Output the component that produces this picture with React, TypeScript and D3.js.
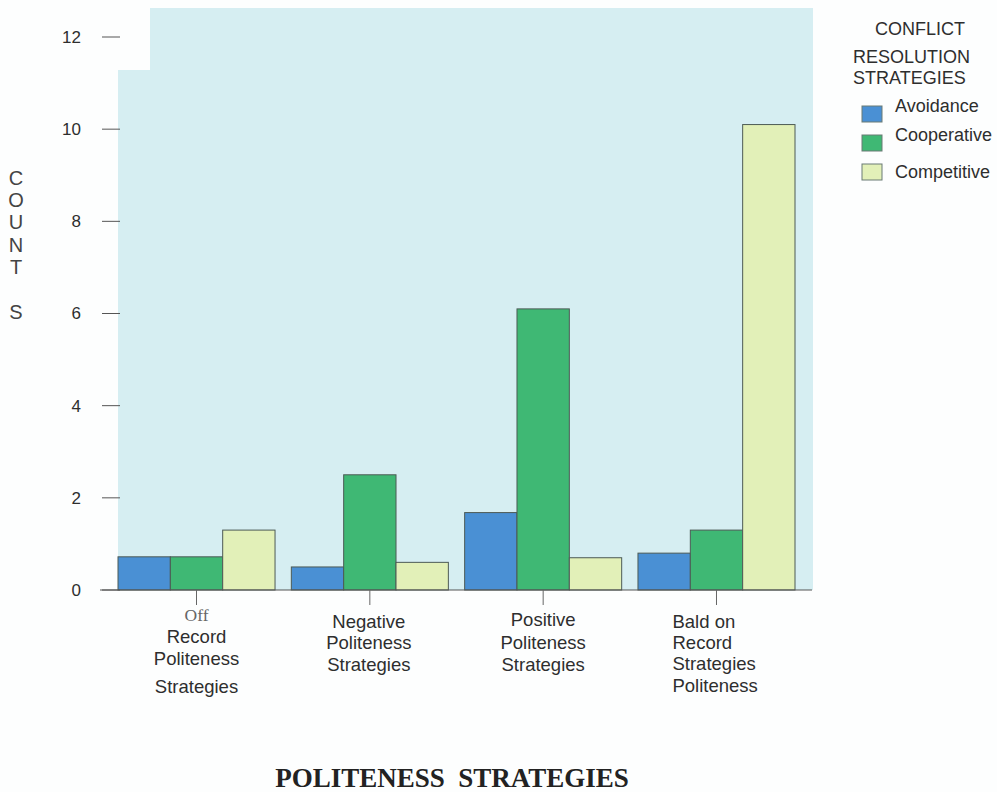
import React from "react";
import * as d3 from "d3";

const categories = ["Off Record", "Negative", "Positive", "Bald on Record"];
const seriesNames = ["Avoidance", "Cooperative", "Competitive"];
const avoidance = [0.72, 0.5, 1.68, 0.8];
const cooperative = [0.72, 2.5, 6.1, 1.3];
const competitive = [1.3, 0.6, 0.7, 10.1];
const yTicks = [0, 2, 4, 6, 8, 10, 12];
const colors = ["#4a90d4", "#3fb874", "#e2f0b8"];

const W = 997;
const H = 792;

export default function App() {
  const series = [avoidance, cooperative, competitive];
  const x0 = d3.scaleBand<string>().domain(categories).range([118, 795]).paddingInner(0.094).paddingOuter(0);
  const x1 = d3.scaleBand<string>().domain(seriesNames).range([0, x0.bandwidth()]).padding(0);
  const y = d3.scaleLinear().domain([0, 12]).range([590, 37]);
  const sans = "Arial, 'Liberation Sans', sans-serif";
  const textCol = "#2e2e2e";

  const labelLines: { lines: { t: string; dy: number; serif?: boolean }[]; anchor: string; dx: number }[] = [
    { lines: [{ t: "Off", dy: 615, serif: true }, { t: "Record", dy: 637 }, { t: "Politeness", dy: 659 }, { t: "Strategies", dy: 687 }], anchor: "middle", dx: 0 },
    { lines: [{ t: "Negative", dy: 622 }, { t: "Politeness", dy: 643 }, { t: "Strategies", dy: 665 }], anchor: "middle", dx: -1 },
    { lines: [{ t: "Positive", dy: 620 }, { t: "Politeness", dy: 643 }, { t: "Strategies", dy: 665 }], anchor: "middle", dx: 0 },
    { lines: [{ t: "Bald on", dy: 622 }, { t: "Record", dy: 643 }, { t: "Strategies", dy: 664 }, { t: "Politeness", dy: 686 }], anchor: "start", dx: -44 },
  ];

  const countLetters = ["C", "O", "U", "N", "T", "S"];
  const countY = [178, 200, 222, 245, 267, 312];

  return (
    <svg width={W} height={H} style={{ position: "absolute", left: 0, top: 0, background: "#fff" }} fontFamily={sans}>
      <rect x={0} y={0} width={W} height={H} fill="#fdfefe" />
      {/* plot background */}
      <rect x={150} y={8} width={813 - 150} height={590 - 8} fill="#d6eef2" />
      <rect x={118} y={70} width={32} height={590 - 70} fill="#d6eef2" />

      {/* bars */}
      {categories.map((c, i) => (
        <g key={c} transform={`translate(${x0(c)},0)`}>
          {seriesNames.map((s, j) => (
            <rect
              key={s}
              x={x1(s)}
              y={y(series[j][i])}
              width={x1.bandwidth()}
              height={y(0) - y(series[j][i])}
              fill={colors[j]}
              stroke="#4d5a55"
              strokeWidth={1}
            />
          ))}
        </g>
      ))}

      {/* x axis */}
      <line x1={100} x2={812} y1={y(0)} y2={y(0)} stroke="#555" strokeWidth={1.2} />
      {categories.map((c) => {
        const cx = (x0(c) as number) + x0.bandwidth() / 2;
        return <line key={c} x1={cx} x2={cx} y1={y(0)} y2={y(0) + 15} stroke="#666" strokeWidth={1} />;
      })}

      {/* y ticks */}
      {yTicks.map((t) => (
        <g key={t}>
          <line x1={102} x2={120} y1={y(t)} y2={y(t)} stroke="#555" strokeWidth={1} />
          <text x={81} y={y(t)} dy="0.35em" textAnchor="end" fontSize={17} fill={textCol}>
            {t}
          </text>
        </g>
      ))}

      {/* category labels */}
      {categories.map((c, i) => {
        const cx = (x0(c) as number) + x0.bandwidth() / 2 + labelLines[i].dx;
        return (
          <g key={c}>
            {labelLines[i].lines.map((l) => (
              <text
                key={l.t + l.dy}
                x={cx}
                y={l.dy}
                dy="0.35em"
                textAnchor={labelLines[i].anchor as any}
                fontSize={l.serif ? 17.5 : 18.5}
                fontFamily={l.serif ? "'Liberation Serif', 'Times New Roman', serif" : sans}
                fill={l.serif ? "#666" : textCol}
              >
                {l.t}
              </text>
            ))}
          </g>
        );
      })}

      {/* y axis title */}
      {countLetters.map((l, i) => (
        <text key={i} x={16} y={countY[i]} dy="0.35em" textAnchor="middle" fontSize={20} fill="#444">
          {l}
        </text>
      ))}

      {/* legend */}
      <text x={920} y={29} dy="0.35em" textAnchor="middle" fontSize={18} fill={textCol}>CONFLICT</text>
      <text x={853} y={57} dy="0.35em" fontSize={18} fill={textCol}>RESOLUTION</text>
      <text x={853} y={78} dy="0.35em" fontSize={18} fill={textCol}>STRATEGIES</text>
      {seriesNames.map((s, j) => {
        const ys = [106, 135, 164][j];
        const ty = [106, 135, 172][j];
        return (
          <g key={s}>
            <rect x={862} y={ys} width={20} height={16} fill={colors[j]} stroke="#6a7a74" strokeWidth={1} />
            <text x={895} y={ty} dy="0.35em" fontSize={18} fill={textCol}>{s}</text>
          </g>
        );
      })}

      {/* x axis title */}
      <text x={452} y={787} textAnchor="middle" fontSize={27} fontWeight="bold" fontFamily="'Liberation Serif', 'Times New Roman', serif" fill="#222">
        POLITENESS&#160;&#160;STRATEGIES
      </text>
    </svg>
  );
}
